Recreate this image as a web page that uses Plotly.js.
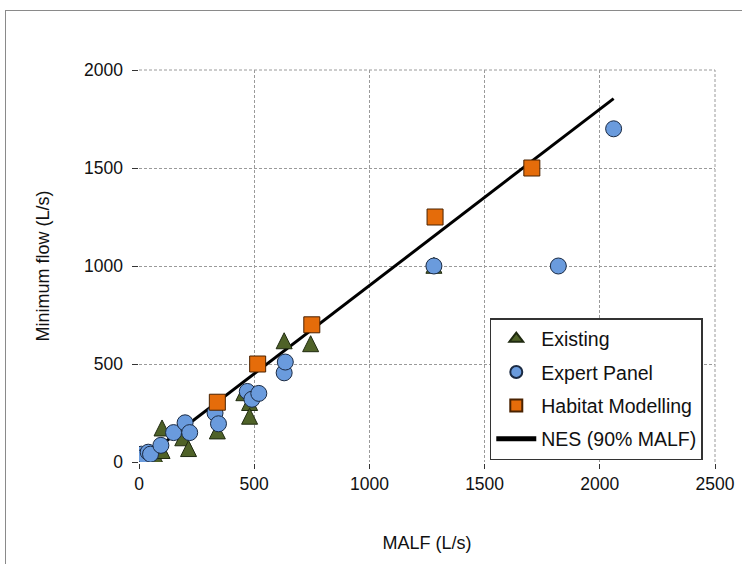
<!DOCTYPE html>
<html>
<head>
<meta charset="utf-8">
<script src="https://cdn.plot.ly/plotly-3.0.1.min.js"></script>
<style>
html,body{margin:0;padding:0;background:#fff;}
#chart{position:absolute;left:0;top:0;width:742px;height:564px;}
#frame{position:absolute;left:5px;top:10px;width:800px;height:700px;border:1.5px solid #8a8a8a;pointer-events:none;}
</style>
</head>
<body>
<div id="chart"></div>
<div id="frame"></div>
<script>
// Existing minimum flows
const existingMALF = [10, 40, 70, 100, 100, 190, 215, 340, 455, 480, 480, 630, 745, 1280];
const existingFlow = [20, 10, 20, 45, 160, 110, 55, 145, 340, 290, 220, 605, 590, 990];
// Expert panel
const expertMALF = [10, 25, 40, 50, 95, 150, 200, 220, 330, 345, 470, 490, 520, 630, 635, 1280, 1820, 2060];
const expertFlow = [40, 30, 50, 40, 85, 150, 200, 150, 250, 195, 360, 320, 350, 455, 510, 1000, 1000, 1700];
// Habitat modelling
const habitatMALF = [340, 515, 750, 1285, 1705];
const habitatFlow = [305, 500, 700, 1250, 1500];
// NES (90% MALF) line end points
const nesMALF = [0, 2060];
const nesFlow = [0, 1854];

const xTicks = [0, 500, 1000, 1500, 2000, 2500];
const yTicks = [0, 500, 1000, 1500, 2000];

const FONT = 'Liberation Sans, Arial, sans-serif';
const TRI = 16;
const triColor = '#4F6228', triLine = '#1f2a10';

const traces = [
  {
    x: existingMALF, y: existingFlow, type: 'scatter', mode: 'markers', name: 'Existing',
    legendgroup: 'a', showlegend: false,
    marker: {symbol: 'arrow-down', angle: 180, standoff: TRI * 2 / 3, size: TRI, color: triColor, line: {color: triLine, width: 1}},
    cliponaxis: false
  },
  {
    x: [null], y: [null], type: 'scatter', mode: 'markers', name: 'Existing',
    legendgroup: 'a', showlegend: true,
    marker: {symbol: 'triangle-up', size: 12, color: triColor, line: {color: triLine, width: 1}}
  },
  {
    x: expertMALF, y: expertFlow, type: 'scatter', mode: 'markers', name: 'Expert Panel',
    legendgroup: 'b',
    marker: {symbol: 'circle', size: 16, color: '#6A9BDD', line: {color: '#1b2b44', width: 1}},
    cliponaxis: false
  },
  {
    x: habitatMALF, y: habitatFlow, type: 'scatter', mode: 'markers', name: 'Habitat Modelling',
    legendgroup: 'c',
    marker: {symbol: 'square', size: 16, color: '#E56C0A', line: {color: '#4a2200', width: 1}},
    cliponaxis: false
  },
  {
    x: nesMALF, y: nesFlow, type: 'scatter', mode: 'lines', name: 'NES (90% MALF)',
    legendgroup: 'd', zorder: -1,
    line: {color: '#000', width: 3}
  }
];

const gridStyle = {color: '#9a9a9a', width: 1, dash: '3px,2px'};

const layout = {
  width: 742, height: 564,
  margin: {l: 139, r: 27, t: 70, b: 102},
  paper_bgcolor: 'rgba(0,0,0,0)', plot_bgcolor: '#fff',
  font: {family: FONT, size: 17, color: '#111'},
  showlegend: true,
  legend: {
    x: 0.609, xanchor: 'left', y: 0.005, yanchor: 'bottom',
    bgcolor: '#fff', bordercolor: '#333', borderwidth: 1.5,
    font: {family: FONT, size: 19.5, color: '#111'},
    traceorder: 'grouped', tracegroupgap: 5, itemsizing: 'constant', itemwidth: 40
  },
  shapes: [
    {type: 'line', xref: 'paper', yref: 'paper', x0: 0, x1: 1, y0: 1, y1: 1, line: gridStyle, layer: 'below'},
    {type: 'line', xref: 'paper', yref: 'paper', x0: 1, x1: 1, y0: 0, y1: 1, line: gridStyle, layer: 'below'}
  ],
  xaxis: {
    range: [0, 2500], tickvals: xTicks, ticktext: xTicks.map(String),
    showgrid: true, gridcolor: '#9a9a9a', griddash: '3px,2px', gridwidth: 1,
    zeroline: false, showline: true, linecolor: '#333', linewidth: 1.5,
    ticks: 'outside', ticklen: 5, tickcolor: '#333', tickfont: {size: 17.5},
    title: {text: 'MALF (L/s)', font: {size: 18}, standoff: 44}
  },
  yaxis: {
    range: [0, 2000], tickvals: yTicks, ticktext: yTicks.map(String),
    showgrid: true, gridcolor: '#9a9a9a', griddash: '3px,2px', gridwidth: 1,
    zeroline: false, showline: true, linecolor: '#333', linewidth: 1.5,
    ticks: 'outside', ticklen: 6, tickcolor: '#333', tickfont: {size: 17.5},
    ticklabelstandoff: 5,
    title: {text: 'Minimum flow (L/s)', font: {size: 18}, standoff: 30}
  }
};

Plotly.newPlot('chart', traces, layout, {displayModeBar: false, staticPlot: true});
</script>
</body>
</html>
